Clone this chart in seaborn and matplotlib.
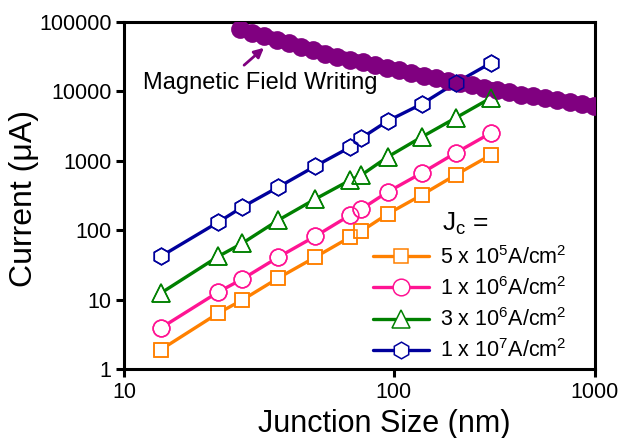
import numpy as np
import matplotlib
matplotlib.use('Agg')
import matplotlib.pyplot as plt
import seaborn as sns
from matplotlib.ticker import FixedLocator, FixedFormatter, NullLocator

# junction sizes (nm) and currents (uA)
size_nm = [13.7, 22.4, 27.5, 37.4, 51.3, 69.2, 76.0, 95.0, 138, 203, 304]
cur_5e5 = [1.9, 6.4, 9.9, 20.5, 41, 80, 97, 171, 322, 624, 1213]
cur_1e6 = [3.9, 12.9, 19.8, 41, 82, 166, 202, 355, 667, 1295, 2514]
cur_3e6 = [12.4, 42, 65, 140, 282, 529, 624, 1135, 2203, 4138, 8036]
cur_1e7 = [42, 131, 216, 419, 840, 1580, 2131, 3744, 6580, 13220, 25650]

# magnetic field writing curve
field_size = [27.0, 29.9, 33.1, 37.1, 41.1, 45.5, 50.4, 55.9, 61.9, 69.2,
              76.7, 85.0, 94.2, 105.9, 121.5, 141.0, 161.8, 185.7, 213.0, 244.4,
              280.4, 325.4, 373.4, 428.3, 491.5, 564.0, 647.1, 750.9, 861.7, 988.6]
field_cur = [79250, 70340, 62660, 55210, 49330, 43950, 39260, 34930, 31420, 28620,
             26180, 23990, 21970, 20140, 18480, 16790, 15390, 14260, 13210, 12280,
             11380, 10480, 9705, 9020, 8470, 7960, 7470, 6985, 6560, 6160]

labels = ['5 x 10$^5$A/cm$^2$', '1 x 10$^6$A/cm$^2$',
          '3 x 10$^6$A/cm$^2$', '1 x 10$^7$A/cm$^2$']

sns.set_theme(style='ticks')
plt.rcParams['font.family'] = ['Liberation Sans', 'DejaVu Sans']
plt.rcParams['mathtext.default'] = 'regular'
plt.rcParams['text.color'] = 'black'
plt.rcParams['axes.labelcolor'] = 'black'

# x axis in the source is not a uniform log: first decade wider than second
K = 201.0 / 269.0


def fwd(x):
    lx = np.log10(np.clip(x, 1e-9, None))
    return np.where(lx <= 2, lx, 2 + (lx - 2) * K)


def inv(u):
    u = np.asarray(u, dtype=float)
    return np.where(u <= 2, 10 ** u, 10 ** (2 + (u - 2) / K))


fig = plt.figure(figsize=(6.24, 4.38), dpi=100)
ax = fig.add_axes([124 / 624, 1 - 369 / 438, 471 / 624, 347 / 438])
ax.set_xscale('function', functions=(fwd, inv))
ax.set_yscale('log')

series = [
    (cur_5e5, '#FF8000', 's', 10.5),
    (cur_1e6, '#FF1493', 'o', 12),
    (cur_3e6, '#008000', '^', 13),
    (cur_1e7, '#00009C', 'h', 12),
]

handles = []
for (vals, col, mk, ms), lab in zip(series, labels):
    sns.lineplot(x=size_nm, y=vals, ax=ax, color=col, linewidth=2.4,
                 marker=mk, markersize=ms, markerfacecolor='white',
                 markeredgecolor=col, markeredgewidth=1.1, zorder=3)
    h, = ax.plot([], [], color=col, linewidth=2.4, marker=mk, markersize=ms,
                 markerfacecolor='white', markeredgecolor=col, markeredgewidth=1.1)
    handles.append(h)

sns.lineplot(x=field_size, y=field_cur, ax=ax, color='#800080', linewidth=10,
             marker='o', markersize=13.5, markeredgewidth=0, zorder=4)

# marker outlines stay visible over the purple band
for vals, col, mk, ms in series:
    ax.plot(size_nm, vals, linestyle='none', marker=mk, markersize=ms,
            markerfacecolor='none', markeredgecolor=col, markeredgewidth=1.1, zorder=5)

ax.set_xlim(10, 1000)
ax.set_ylim(1, 100000)
ax.xaxis.set_major_locator(FixedLocator([10, 100, 1000]))
ax.xaxis.set_major_formatter(FixedFormatter(['10', '100', '1000']))
ax.xaxis.set_minor_locator(NullLocator())
yt = [1, 10, 100, 1000, 10000, 100000]
ax.yaxis.set_major_locator(FixedLocator(yt))
ax.yaxis.set_major_formatter(FixedFormatter([str(v) for v in yt]))
ax.yaxis.set_minor_locator(NullLocator())

for s in ax.spines.values():
    s.set_linewidth(2.2)
    s.set_color('black')
ax.tick_params(axis='both', which='major', direction='out', length=6, width=2.2,
               labelsize=15.5, colors='black', pad=3)

ax.set_xlabel('Junction Size (nm)', fontsize=22)
ax.set_ylabel('Current (\u03bcA)', fontsize=23)
ax.xaxis.set_label_coords((384 - 124) / 471, -0.115)
ax.yaxis.set_label_coords(-0.18, 0.49)

leg = ax.legend(handles, labels, loc='upper left', frameon=False,
                bbox_to_anchor=(373 / 624, 1 - 246 / 438), bbox_transform=fig.transFigure,
                fontsize=15.5, handlelength=2.6, handletextpad=0.5, labelspacing=0.38,
                borderpad=0, borderaxespad=0)
fig.text(442 / 624, 1 - 231 / 438, 'J$_c$ =', fontsize=19, va='baseline', ha='left')

fig.text(143 / 624, 1 - 83 / 438, 'Magnetic Field Writing', fontsize=17,
         va='center', ha='left')
ax.annotate('', xy=(266, 438 - 46), xytext=(242, 438 - 67),
            xycoords='figure pixels', textcoords='figure pixels',
            arrowprops=dict(arrowstyle='-|>', color='#800080', lw=2, mutation_scale=14))

fig.savefig('out.png', dpi=100)
